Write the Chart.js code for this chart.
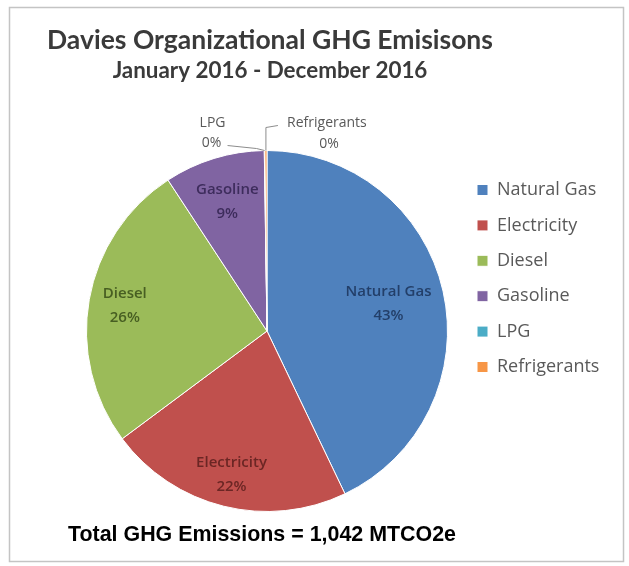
<!DOCTYPE html>
<html>
<head>
<meta charset="utf-8">
<title>Davies Organizational GHG Emisisons</title>
<script src="https://cdn.jsdelivr.net/npm/chart.js@4.4.1/dist/chart.umd.min.js"></script>
<style>
  html, body { margin: 0; padding: 0; background: #ffffff; }
  #wrap { width: 629px; height: 566px; }
</style>
</head>
<body>
<div id="wrap"><canvas id="ghgChart" width="629" height="566"></canvas></div>
<script>
// Sumber emisi GHG 2016 (MTCO2e)
const sources = ['Natural Gas', 'Electricity', 'Diesel', 'Gasoline', 'LPG', 'Refrigerants'];
const emissions = [448, 229, 271, 94, 0.5, 2];
const sliceColors = ['#4F81BD', '#C0504D', '#9BBB59', '#8064A2', '#4BACC6', '#F79646'];
const labelColors = ['#233F69', '#6B2624', '#475E22', '#3D2C5C', '#595959', '#595959'];

const chartTitle = 'Davies Organizational GHG Emisisons';
const chartSubtitle = 'January 2016 - December 2016';
const totalText = 'Total GHG Emissions = 1,042 MTCO2e';

// ================= layout legenda =================
const LEGEND_FONT = { family: "'Open Sans', sans-serif", size: 18 };
const LEGEND_PAD = 17.4;   // jarak antar item ~35px
const BOX = 11;
const BOX_LEFT = 477;      // posisi kotak legenda
const PIE_CX = 267;

const measure = document.createElement('canvas').getContext('2d');
measure.font = LEGEND_FONT.size + 'px ' + LEGEND_FONT.family;
const longest = Math.max(...sources.map(s => measure.measureText(s).width));
const legendLeft = BOX_LEFT - LEGEND_PAD;
const legendWidth = LEGEND_PAD + BOX + LEGEND_FONT.size / 2 + longest + 10;
const padRight = 629 - legendLeft - legendWidth;
const padLeft = 2 * PIE_CX - legendLeft;

// fit ukuran font ke lebar teks pada gambar
function fitFont(ctx, text, weight, family, targetWidth) {
  ctx.font = weight + ' 40px ' + family;
  const size = 40 * targetWidth / ctx.measureText(text).width;
  return weight + ' ' + size.toFixed(2) + 'px ' + family;
}

const ghgLabels = {
  id: 'ghgLabels',
  beforeDraw(chart) {
    const ctx = chart.ctx;
    ctx.save();
    // bingkai
    ctx.strokeStyle = '#c4c4c4';
    ctx.lineWidth = 1.5;
    ctx.strokeRect(9.5, 7.5, 614, 554);

    ctx.fillStyle = '#3a3a3a';
    ctx.textAlign = 'center';
    ctx.textBaseline = 'middle';
    ctx.font = fitFont(ctx, chartTitle, 'bold', 'Lato, sans-serif', 446);
    ctx.fillText(chartTitle, 270, 40);
    ctx.font = fitFont(ctx, chartSubtitle, 'bold', 'Lato, sans-serif', 315);
    ctx.fillText(chartSubtitle, 270, 71);

    ctx.fillStyle = '#000000';
    ctx.textAlign = 'left';
    ctx.font = fitFont(ctx, totalText, 'bold', "'Liberation Sans', Arial, sans-serif", 388);
    ctx.fillText(totalText, 68, 535);
    ctx.restore();
  },
  afterDatasetsDraw(chart, args, opts) {
    const ctx = chart.ctx;
    const meta = chart.getDatasetMeta(0);
    const values = chart.data.datasets[0].data;
    const total = values.reduce((a, b) => a + b, 0);
    ctx.save();
    ctx.textAlign = 'center';
    ctx.textBaseline = 'middle';
    meta.data.forEach((arc, i) => {
      const pct = Math.round(values[i] / total * 100) + '%';
      const {x, y, startAngle, endAngle, outerRadius} = arc.getProps(['x', 'y', 'startAngle', 'endAngle', 'outerRadius'], true);
      const mid = (startAngle + endAngle) / 2;
      if (values[i] / total >= 0.05) {
        const r = outerRadius * opts.insideRadius[i];
        const lx = x + Math.cos(mid) * r;
        const ly = y + Math.sin(mid) * r;
        ctx.fillStyle = labelColors[i];
        ctx.font = '600 15px ' + LEGEND_FONT.family;
        ctx.fillText(sources[i], lx, ly - 12);
        ctx.fillText(pct, lx, ly + 12);
      } else {
        // label luar dengan garis penunjuk
        const px = x + Math.cos(mid) * outerRadius;
        const py = y + Math.sin(mid) * outerRadius;
        const o = opts.outside[sources[i]];
        ctx.strokeStyle = '#8c8c8c';
        ctx.lineWidth = 1;
        ctx.beginPath();
        ctx.moveTo(px, py);
        o.leader.forEach(p => ctx.lineTo(px + p[0], py + p[1]));
        ctx.stroke();
        ctx.fillStyle = labelColors[i];
        ctx.font = '14px ' + LEGEND_FONT.family;
        ctx.fillText(sources[i], px + o.name[0], py + o.name[1]);
        ctx.fillText(pct, px + o.pct[0], py + o.pct[1]);
      }
    });
    ctx.restore();
  }
};

new Chart(document.getElementById('ghgChart'), {
  type: 'pie',
  data: {
    labels: sources,
    datasets: [{
      data: emissions,
      backgroundColor: sliceColors,
      borderColor: '#ffffff',
      borderWidth: 1
    }]
  },
  options: {
    responsive: false,
    animation: false,
    layout: { padding: { top: 150, bottom: 54, left: padLeft, right: padRight } },
    plugins: {
      legend: {
        position: 'right',
        align: 'start',
        title: { display: true, text: ' ', padding: 0, font: { size: 10, lineHeight: 1.36 } },
        labels: {
          boxWidth: BOX,
          boxHeight: BOX,
          padding: LEGEND_PAD,
          color: '#595959',
          font: LEGEND_FONT
        }
      },
      tooltip: { enabled: false },
      ghgLabels: {
        insideRadius: [0.69, 0.82, 0.80, 0.75],
        outside: {
          'LPG': { name: [-52, -28], pct: [-53, -8], leader: [[-8, -2], [-37, -5]] },
          'Refrigerants': { name: [61, -27], pct: [63, -6], leader: [[0, -23], [12, -25]] }
        }
      }
    }
  },
  plugins: [ghgLabels]
});
</script>
</body>
</html>
